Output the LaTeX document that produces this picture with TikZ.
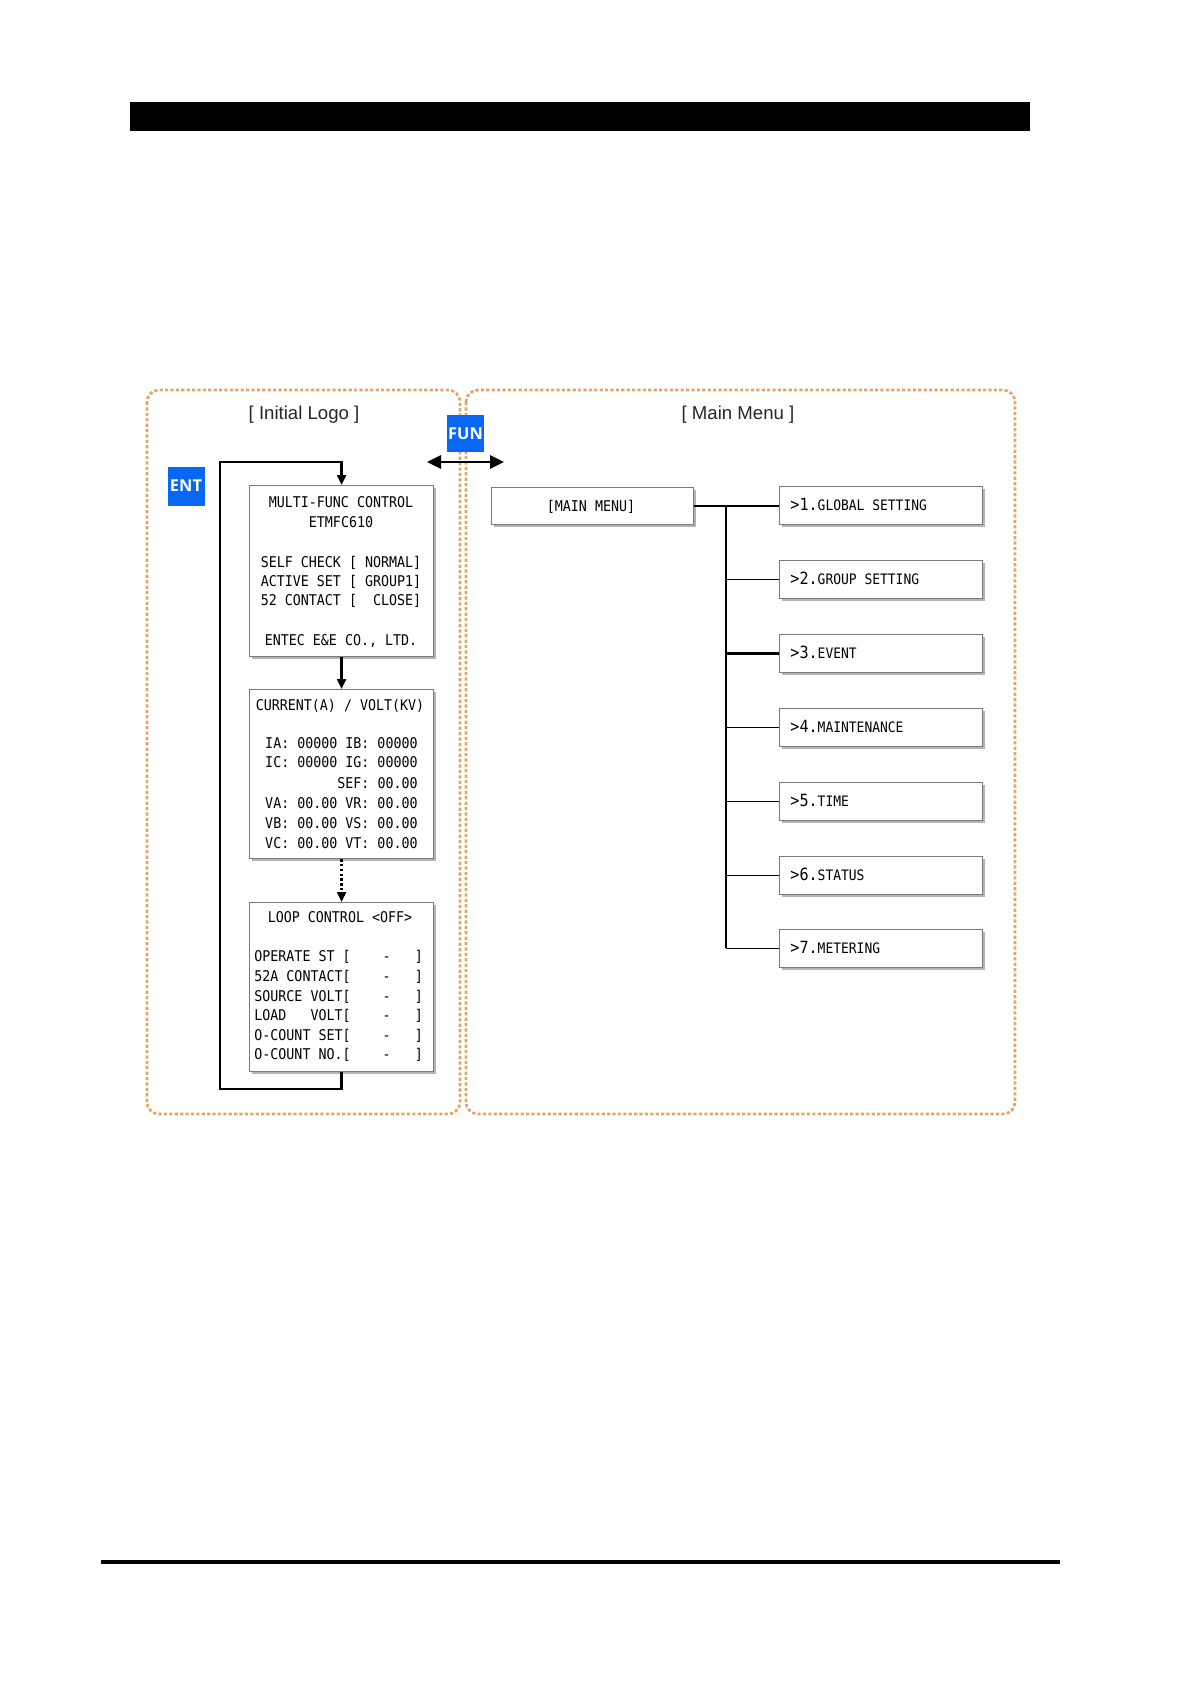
\documentclass[tikz,border=0pt]{standalone}
\usepackage{fontspec}
\usetikzlibrary{arrows.meta,shadows}
\newfontfamily\lcd[FakeStretch=0.9]{DejaVu Sans Mono}
\newfontfamily\uisans{Liberation Sans}
\newfontfamily\keyfont{Open Sans}
\definecolor{dashorange}{HTML}{E5A56A}
\definecolor{keyblue}{HTML}{0A66F5}
\definecolor{boxgray}{HTML}{7A7A7A}
\definecolor{shadowgray}{HTML}{B4B4B4}
\tikzset{
  container/.style={draw=dashorange, line width=1.4pt, dash pattern=on 1.6pt off 1.1pt, rounded corners=6pt},
  lcdbox/.style={draw=boxgray, line width=0.6pt, fill=white, anchor=north west, inner sep=0pt,
    drop shadow={shadow xshift=1.3pt, shadow yshift=-1.3pt, fill=shadowgray, opacity=1}},
  ln/.style={anchor=base, inner sep=0pt, font={\fontsize{7.4}{9}\lcd}},
  lnw/.style={ln, anchor=base west},
  lne/.style={ln, anchor=base east},
  keybox/.style={fill=keyblue, text=white, inner sep=0pt, minimum width=18.5pt, minimum height=18.5pt, font={\fontsize{8.2}{9}\keyfont\bfseries}},
  title/.style={inner sep=0pt, font={\fontsize{9.3}{11}\uisans}, text=black!85},
  conn/.style={line width=1.2pt, -{Triangle[length=5pt,width=4.5pt]}},
  tree/.style={line width=1.2pt},
  branch/.style={line width=0.7pt},
}
\begin{document}
\begin{tikzpicture}[x=0.5pt,y=-0.5pt]
\useasboundingbox (0,0) rectangle (1191,1684);
% page decorations
\fill[black] (130,102) rectangle (1030,131);
\draw[line width=1.8pt] (101,1562) -- (1060,1562);

% containers
\draw[container] (147,390) rectangle (460,1114);
\draw[container] (466,390) rectangle (1015,1114);
\node[title] (tinit) at (304,415) {[ Initial Logo ]};
\node[title] (tmain) at (738,415) {[ Main Menu ]};

% left boxes
\node[lcdbox, minimum width=92pt, minimum height=85.5pt] (b1) at (249,485) {};
\node[lcdbox, minimum width=92pt, minimum height=84.5pt] (b2) at (249,689) {};
\node[lcdbox, minimum width=92pt, minimum height=84.5pt] (b3) at (249,902) {};

% box 1 text
\node[ln] (b1a) at (341,507.4) {MULTI-FUNC~CONTROL};
\node[ln] (b1b) at (341,527.4) {ETMFC610};
\node[ln] (b1c) at (341,567.4) {SELF~CHECK~[~NORMAL]};
\node[ln] (b1d) at (341,586.4) {ACTIVE~SET~[~GROUP1]};
\node[ln] (b1e) at (341,605.4) {52~CONTACT~[~~CLOSE]};
\node[ln] (b1f) at (341,645.4) {ENTEC~E\&E~CO.,~LTD.};

% box 2 text
\node[ln] (b2a) at (340,710.4) {CURRENT(A)~/~VOLT(KV)};
\node[lne] (b2b) at (418,748.4) {IA:~00000~IB:~00000};
\node[lne] (b2c) at (418,767.4) {IC:~00000~IG:~00000};
\node[lne] (b2d) at (418,788.4) {SEF:~00.00};
\node[lne] (b2e) at (418,808.4) {VA:~00.00~VR:~00.00};
\node[lne] (b2f) at (418,828.4) {VB:~00.00~VS:~00.00};
\node[lne] (b2g) at (418,848.4) {VC:~00.00~VT:~00.00};

% box 3 text
\node[ln] (b3a) at (340,922.4) {LOOP~CONTROL~<OFF>};
\node[lnw] (b3b) at (254,961.4) {OPERATE~ST~[~~~~-~~~]};
\node[lnw] (b3c) at (254,981.4) {52A~CONTACT[~~~~-~~~]};
\node[lnw] (b3d) at (254,1001.4) {SOURCE~VOLT[~~~~-~~~]};
\node[lnw] (b3e) at (254,1020.4) {LOAD~~~VOLT[~~~~-~~~]};
\node[lnw] (b3f) at (254,1040.4) {O-COUNT~SET[~~~~-~~~]};
\node[lnw] (b3g) at (254,1059.4) {O-COUNT~NO.[~~~~-~~~]};

% left connectors
\coordinate (lb) at (220,1089);
\coordinate (lt) at (220,462);
\draw[conn] (b3.south) |- (lb) -- (lt) -| (b1.north);
\draw[conn] (b1.south) -- (b2.north);
\draw[conn, dash pattern=on 1.2pt off 1.2pt] (b2.south) -- (b3.north);

% keys
\node[keybox, minimum height=19.5pt] (ent) at (186,486) {ENT};
\coordinate (dl) at (427,462);
\coordinate (dr) at (504,462);
\draw[line width=1.3pt, {Triangle[length=7pt,width=6.5pt]}-{Triangle[length=7pt,width=6.5pt]}] (dl) -- (dr);
\node[keybox] (fun) at (465.5,433.5) {FUN};

% main menu
\node[lcdbox, minimum width=101pt, minimum height=18.5pt] (mm) at (491,487) {};
\node[ln] (mmt) at (591,511) {[MAIN~MENU]};

\foreach \i/\yc/\num/\txt in {1/505/1/GLOBAL~SETTING, 2/579/2/GROUP~SETTING, 3/653/3/EVENT, 4/727/4/MAINTENANCE, 5/801/5/TIME, 6/875/6/STATUS, 7/948/7/METERING}{
  \node[lcdbox, minimum width=101.5pt, minimum height=19pt] (it\i) at (779,\yc-19) {};
  \node[anchor=base west, inner sep=0pt] (itt\i) at (790,\yc+5.8) {{\fontsize{8.4}{9}\lcd >\num.}{\fontsize{7.2}{9}\lcd \txt}};
}
\coordinate (t1) at (726,505);
\coordinate (t7) at (726,948);
\draw[tree] (mm.east) -- (mm.east -| it1.west);
\draw[tree] (t1) -- (t7);
\draw[branch] (it2.west) -- (it2.west -| t1);
\draw[tree] (it3.west) -- (it3.west -| t1);
\draw[branch] (it4.west) -- (it4.west -| t1);
\draw[branch] (it5.west) -- (it5.west -| t1);
\draw[branch] (it6.west) -- (it6.west -| t1);
\draw[branch] (it7.west) -- (it7.west -| t1);
\end{tikzpicture}
\end{document}
